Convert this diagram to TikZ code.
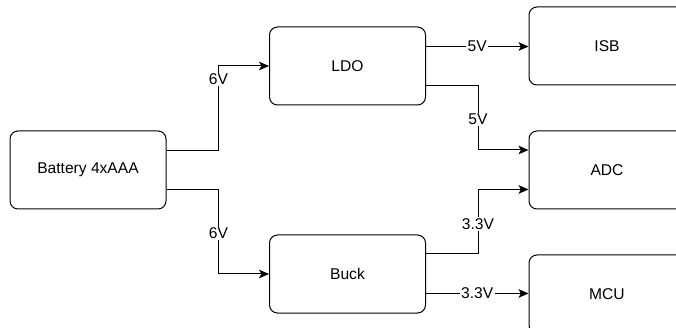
\documentclass[tikz,border=0pt]{standalone}
\usepackage{fontspec}
\setmainfont{Liberation Sans}
\usetikzlibrary{positioning, arrows.meta}

\begin{document}
\begin{tikzpicture}[
    x=0.75pt, y=-0.75pt,
    every node/.style={font=\fontsize{11.7}{14}\selectfont},
    block/.style={draw, line width=0.75pt, rounded corners=6pt,
                  minimum width=117pt, minimum height=58.5pt, align=center},
    wire/.style={-{Stealth[length=7.5pt, width=6.5pt, inset=1.8pt]},
                 line width=0.75pt},
    volt/.style={fill=white, inner sep=1pt},
  ]
  \clip (0,0) rectangle (676,328);

  \node[block] (bat)  at (88, 170)    {Battery 4xAAA};
  \node[block] (ldo)  at (347.5, 66)  {LDO};
  \node[block] (buck) at (347.5, 274) {Buck};
  \node[block] (isb)  at (607, 46)    {ISB};
  \node[block] (adc)  at (607, 170)   {ADC};
  \node[block] (mcu)  at (607, 294)   {MCU};

  \draw[wire] ([yshift=14.6pt]bat.east) -- ++(52,0)
    |- node[volt, pos=0.42] {6V} (ldo.west);
  \draw[wire] ([yshift=-14.6pt]bat.east) -- ++(52,0)
    |- node[volt, pos=0.26] {6V} (buck.west);
  \draw[wire] ([yshift=14.6pt]ldo.east)
    -- node[volt] {5V} ([yshift=14.6pt]ldo.east -| isb.west);
  \draw[wire] ([yshift=-15pt]ldo.east) -- ++(52,0)
    |- node[volt, pos=0.26] {5V} ([yshift=15pt]adc.west);
  \draw[wire] ([yshift=15pt]buck.east) -- ++(52,0)
    |- node[volt, pos=0.23] {3.3V} ([yshift=-14.6pt]adc.west);
  \draw[wire] ([yshift=-14.6pt]buck.east)
    -- node[volt] {3.3V} ([yshift=-14.6pt]buck.east -| mcu.west);
\end{tikzpicture}
\end{document}
